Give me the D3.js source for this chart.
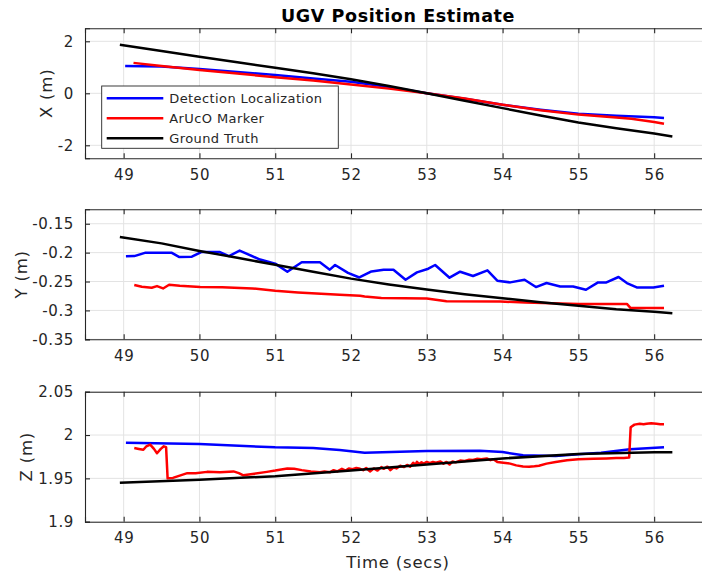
<!DOCTYPE html>
<html><head><meta charset="utf-8">
<script src="https://cdn.jsdelivr.net/npm/d3@7/dist/d3.min.js"></script>
<style>
body{margin:0;background:#fff;}
text{font-family:"DejaVu Sans",sans-serif;fill:#262626;}
</style></head>
<body>
<svg id="chart" width="702" height="578"></svg>
<script>
// ---------------- DATA ----------------
const title = "UGV Position Estimate";
const seriesNames = ["Detection Localization", "ArUcO Marker", "Ground Truth"];
const seriesColors = ["#0000ff", "#ff0000", "#000000"];
const xTicks = [49, 50, 51, 52, 53, 54, 55, 56];
const xLabel = "Time (secs)";

// X subplot
const xGT_t = [48.95, 49.5, 50, 50.5, 51, 51.5, 52, 52.5, 53, 53.5, 54, 54.5, 55, 55.5, 56, 56.24];
const xGT_v = [1.87, 1.63, 1.41, 1.19, 0.98, 0.77, 0.54, 0.28, 0.0, -0.29, -0.57, -0.85, -1.12, -1.34, -1.55, -1.66];
const xDet_t = [49.02, 49.5, 50, 50.5, 51, 51.5, 52, 52.5, 53, 53.5, 54, 54.5, 55, 55.5, 56, 56.13];
const xDet_v = [1.05, 1.03, 0.93, 0.82, 0.70, 0.57, 0.44, 0.24, 0.0, -0.21, -0.44, -0.63, -0.79, -0.86, -0.92, -0.95];
const xAr_t = [49.13, 49.5, 50, 50.5, 51, 51.5, 52, 52.5, 53, 53.5, 54, 54.5, 55, 55.5, 55.7, 56, 56.13];
const xAr_v = [1.17, 1.05, 0.90, 0.76, 0.62, 0.49, 0.34, 0.18, 0.0, -0.2, -0.44, -0.65, -0.82, -0.93, -0.98, -1.1, -1.17];

// Y subplot
const yGT_t = [48.95, 49.5, 50, 50.5, 51, 51.5, 52, 52.5, 53, 53.5, 54, 54.5, 55, 55.5, 56, 56.24];
const yGT_v = [-0.173, -0.184, -0.197, -0.209, -0.221, -0.233, -0.245, -0.255, -0.264, -0.272, -0.279, -0.286, -0.292, -0.298, -0.3025, -0.305];
const yDet_t = [49.03, 49.14, 49.29, 49.63, 49.73, 49.90, 50.03, 50.27, 50.39, 50.53, 50.80, 51.0, 51.16, 51.35, 51.59, 51.72, 51.79, 51.96, 52.11, 52.27, 52.43, 52.56, 52.72, 52.87, 53.02, 53.11, 53.30, 53.44, 53.61, 53.80, 53.93, 54.10, 54.29, 54.44, 54.58, 54.76, 54.93, 55.10, 55.26, 55.37, 55.53, 55.64, 55.77, 55.99, 56.13];
const yDet_v = [-0.2063, -0.206, -0.200, -0.200, -0.2074, -0.207, -0.1987, -0.199, -0.206, -0.1965, -0.212, -0.219, -0.233, -0.2167, -0.2167, -0.2295, -0.2214, -0.235, -0.243, -0.2325, -0.2295, -0.2295, -0.2469, -0.2342, -0.2278, -0.2214, -0.2434, -0.2330, -0.2405, -0.2307, -0.2486, -0.2515, -0.2469, -0.2596, -0.2526, -0.2585, -0.2585, -0.2643, -0.2515, -0.2515, -0.2422, -0.2526, -0.2602, -0.2602, -0.2573];
const yAr_t = [49.14, 49.24, 49.37, 49.44, 49.52, 49.60, 49.74, 50.01, 50.3, 50.7, 51.0, 51.3, 51.85, 52.12, 52.18, 52.4, 53.0, 53.26, 53.97, 54.3, 55.0, 55.64, 55.69, 56.13];
const yAr_v = [-0.256, -0.259, -0.2608, -0.2579, -0.262, -0.2556, -0.2573, -0.2596, -0.260, -0.262, -0.266, -0.269, -0.273, -0.2747, -0.276, -0.2787, -0.2794, -0.284, -0.2846, -0.2864, -0.2887, -0.2887, -0.296, -0.296];

// Z subplot
const zGT_t = [48.95, 50, 51, 52, 53, 54, 55, 56, 56.24];
const zGT_v = [1.945, 1.9485, 1.9525, 1.959, 1.966, 1.973, 1.978, 1.980, 1.980];
const zDet_t = [49.03, 50, 51, 51.5, 51.85, 52.18, 53, 53.7, 54, 54.27, 54.7, 55, 55.3, 55.68, 56.13];
const zDet_v = [1.991, 1.9897, 1.9858, 1.985, 1.9827, 1.9796, 1.9816, 1.982, 1.9804, 1.9766, 1.9758, 1.9778, 1.9796, 1.9835, 1.9858];
const zAr_t = [49.14, 49.2, 49.26, 49.3, 49.35, 49.4, 49.44, 49.49, 49.53, 49.56, 49.58, 49.65, 49.7, 49.77, 49.84, 49.95, 50.1, 50.27, 50.45, 50.52, 50.58, 50.7, 50.89, 51.0, 51.16, 51.25, 51.35, 51.47, 51.59, 51.65, 51.72, 51.77, 51.82, 51.88, 51.93, 51.97, 52.02, 52.07, 52.12, 52.16, 52.2, 52.25, 52.3, 52.35, 52.4, 52.43, 52.48, 52.52, 52.56, 52.6, 52.65, 52.7, 52.74, 52.78, 52.82, 52.85, 52.87, 52.9, 52.93, 52.96, 53.0, 53.04, 53.08, 53.12, 53.18, 53.22, 53.26, 53.3, 53.34, 53.38, 53.44, 53.5, 53.56, 53.61, 53.66, 53.72, 53.79, 53.84, 53.88, 53.93, 54.01, 54.1, 54.18, 54.27, 54.35, 54.42, 54.48, 54.58, 54.7, 54.85, 55.0, 55.2, 55.37, 55.5, 55.6, 55.67, 55.69, 55.74, 55.81, 55.86, 55.9, 55.96, 56.03, 56.08, 56.13];
const zAr_v = [1.985, 1.984, 1.983, 1.987, 1.989, 1.984, 1.979, 1.984, 1.987, 1.986, 1.950, 1.9505, 1.952, 1.954, 1.956, 1.956, 1.9575, 1.957, 1.958, 1.956, 1.9535, 1.955, 1.9575, 1.959, 1.9615, 1.961, 1.9595, 1.958, 1.957, 1.958, 1.957, 1.9595, 1.958, 1.961, 1.959, 1.9615, 1.9605, 1.962, 1.961, 1.9595, 1.962, 1.958, 1.9615, 1.959, 1.963, 1.961, 1.9635, 1.9595, 1.9625, 1.9615, 1.9645, 1.963, 1.9655, 1.9635, 1.968, 1.9655, 1.969, 1.9665, 1.9685, 1.967, 1.969, 1.9675, 1.969, 1.968, 1.9695, 1.967, 1.969, 1.966, 1.9695, 1.9685, 1.9705, 1.970, 1.9715, 1.9712, 1.9725, 1.972, 1.973, 1.971, 1.972, 1.969, 1.968, 1.967, 1.965, 1.9638, 1.9635, 1.964, 1.9646, 1.967, 1.969, 1.971, 1.972, 1.9725, 1.973, 1.9735, 1.9735, 1.974, 2.009, 2.012, 2.013, 2.0125, 2.013, 2.0135, 2.013, 2.0125, 2.0125];

const panelLabels = ["X (m)", "Y (m)", "Z (m)"];
const panelDomains = [[-2.5, 2.5], [-0.35, -0.125], [1.9, 2.05]];
const panelTicks = [[-2, 0, 2], [-0.35, -0.3, -0.25, -0.2, -0.15], [1.9, 1.95, 2, 2.05]];
const panelTickLabels = [["-2", "0", "2"], ["-0.35", "-0.3", "-0.25", "-0.2", "-0.15"], ["1.9", "1.95", "2", "2.05"]];

// ---------------- LAYOUT ----------------
const svg = d3.select("#chart");
const left = 85, right = 711;
const panelTops = [28.3, 209.3, 391.7];
const panelH = 130;
const labelXs = [46.7, 21, 26];
const x = d3.scaleLinear().domain([48.49, 56.75]).range([left, right]);
const axisColor = "#262626";
const gridColor = "#e3e3e3";

const panelSeries = [
  [[xDet_t, xDet_v], [xAr_t, xAr_v], [xGT_t, xGT_v]],
  [[yDet_t, yDet_v], [yAr_t, yAr_v], [yGT_t, yGT_v]],
  [[zDet_t, zDet_v], [zAr_t, zAr_v], [zGT_t, zGT_v]]
];

panelTops.forEach((top, i) => {
  const bottom = top + panelH;
  const y = d3.scaleLinear().domain(panelDomains[i]).range([bottom, top]);
  const g = svg.append("g");

  // grid
  g.append("g").selectAll("line").data(xTicks).join("line")
    .attr("x1", d => x(d)).attr("x2", d => x(d)).attr("y1", top).attr("y2", bottom)
    .attr("stroke", gridColor).attr("stroke-width", 1);
  g.append("g").selectAll("line").data(panelTicks[i]).join("line")
    .attr("x1", left).attr("x2", right).attr("y1", d => y(d)).attr("y2", d => y(d))
    .attr("stroke", gridColor).attr("stroke-width", 1);

  // series
  const line = d3.line().x(d => x(d[0])).y(d => y(d[1]));
  panelSeries[i].forEach((s, k) => {
    const pts = s[0].map((t, j) => [t, s[1][j]]);
    g.append("path").datum(pts).attr("d", line)
      .attr("fill", "none").attr("stroke", seriesColors[k])
      .attr("stroke-width", 2.5).attr("stroke-linejoin", "round");
  });

  // axes
  const xb = d3.axisBottom(x).tickValues(xTicks).tickSize(-5).tickPadding(11)
    .tickFormat(d => String(d));
  const gx = g.append("g").attr("transform", `translate(0,${bottom})`).call(xb);
  const xt = d3.axisTop(x).tickValues(xTicks).tickSize(-5).tickFormat("");
  const gxt = g.append("g").attr("transform", `translate(0,${top})`).call(xt);
  const yl = d3.axisLeft(y).tickValues(panelTicks[i]).tickSize(-5).tickPadding(11)
    .tickFormat((d, j) => panelTickLabels[i][j]);
  const gy = g.append("g").attr("transform", `translate(${left},0)`).call(yl);
  const yr = d3.axisRight(y).tickValues(panelTicks[i]).tickSize(-5).tickFormat("");
  const gyr = g.append("g").attr("transform", `translate(${right},0)`).call(yr);
  [gx, gxt, gy, gyr].forEach(a => {
    a.select(".domain").attr("stroke", axisColor).attr("stroke-width", 1.1);
    a.selectAll(".tick line").attr("stroke", axisColor).attr("stroke-width", 1.1);
    a.selectAll(".tick text").attr("fill", axisColor)
      .style("font-family", "DejaVu Sans").style("font-size", "15px").style("letter-spacing", "0.6px");
  });

  // y label
  g.append("text")
    .attr("transform", `translate(${labelXs[i]},${(top + bottom) / 2}) rotate(-90)`)
    .attr("text-anchor", "middle").attr("dy", "0.35em")
    .style("font-size", "16.5px").style("letter-spacing", "0.8px")
    .text(panelLabels[i]);

  // legend on first panel
  if (i === 0) {
    const lg = g.append("g");
    lg.append("rect").attr("x", 101.7).attr("y", 86).attr("width", 236.6).attr("height", 62.3)
      .attr("fill", "#fff").attr("stroke", axisColor).attr("stroke-width", 0.9);
    seriesNames.forEach((name, k) => {
      const ry = 98.3 + k * 20;
      lg.append("line").attr("x1", 106.7).attr("x2", 163.3).attr("y1", ry).attr("y2", ry)
        .attr("stroke", seriesColors[k]).attr("stroke-width", 2.5);
      lg.append("text").attr("x", 169.3).attr("y", ry).attr("dy", "0.36em")
        .style("font-size", "13px").style("letter-spacing", "0.4px").text(name);
    });
  }
});

// title
svg.append("text").attr("x", 398).attr("y", 21.5).attr("text-anchor", "middle")
  .style("font-size", "17.5px").style("font-weight", "bold").style("letter-spacing", "0.6px")
  .attr("fill", "#000").style("fill", "#000")
  .text(title);

// x label
svg.append("text").attr("x", 398).attr("y", 568).attr("text-anchor", "middle")
  .style("font-size", "16.5px").style("letter-spacing", "0.8px")
  .text(xLabel);
</script>
</body></html>
